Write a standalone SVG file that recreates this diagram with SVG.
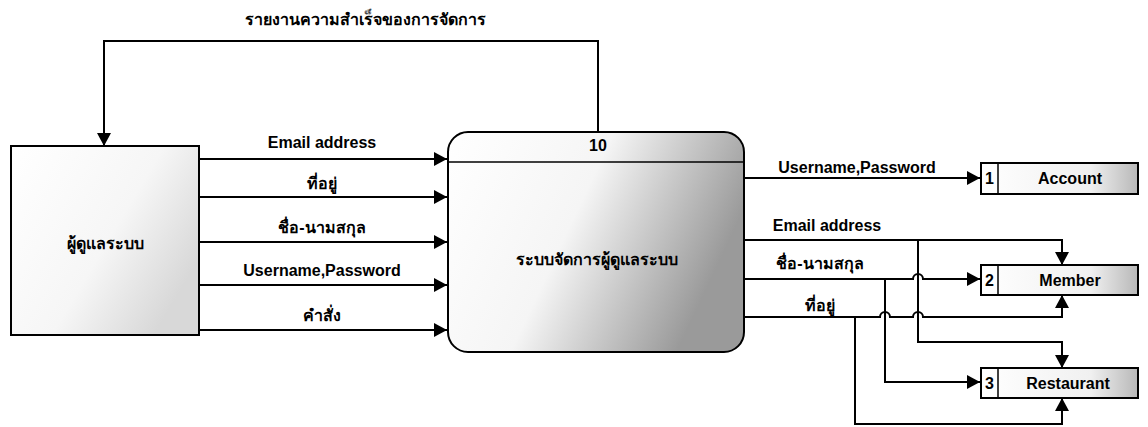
<svg xmlns="http://www.w3.org/2000/svg" width="1148" height="427" viewBox="0 0 1148 427">
<style>
.t{font-family:"Liberation Sans","Noto Sans","DejaVu Sans",sans-serif;font-weight:bold;font-size:16px;fill:#000;text-anchor:middle}
.l{fill:none;stroke:#000;stroke-width:2}
.b{stroke:#000;stroke-width:2}
</style>
<defs>
<marker id="ah" markerUnits="userSpaceOnUse" markerWidth="14" markerHeight="14" refX="13" refY="7" orient="auto">
<path d="M0,0 L13,7 L0,14 Z" fill="#000"/>
</marker>
<linearGradient id="gp" x1="0" y1="0" x2="1" y2="0.35">
<stop offset="0" stop-color="#fff"/>
<stop offset="0.5" stop-color="#f5f5f5"/>
<stop offset="1" stop-color="#9a9a9a"/>
</linearGradient>
<linearGradient id="ge" x1="0" y1="0" x2="1" y2="0.6">
<stop offset="0" stop-color="#fff"/>
<stop offset="0.6" stop-color="#f6f6f6"/>
<stop offset="1" stop-color="#d8d8d8"/>
</linearGradient>
<linearGradient id="gs" x1="0" y1="0" x2="1" y2="0">
<stop offset="0" stop-color="#fff"/>
<stop offset="0.7" stop-color="#f0f0f0"/>
<stop offset="1" stop-color="#b8b8b8"/>
</linearGradient>
</defs>

<text class="t" x="365" y="25">รายงานความสำเร็จของการจัดการ</text>

<g id="admin">
<rect class="b" x="11" y="146" width="188" height="189" fill="url(#ge)"/>
<text class="t" x="105" y="249">ผู้ดูแลระบบ</text>
</g>

<g id="process10">
<rect class="b" x="448" y="132" width="296" height="220" rx="20" ry="20" fill="url(#gp)"/>
<line x1="448" y1="162" x2="744" y2="162" stroke="#000" stroke-width="1.5"/>
<text class="t" x="598" y="151">10</text>
<text class="t" x="597" y="265">ระบบจัดการผู้ดูแลระบบ</text>
</g>

<g id="store1">
<rect class="b" x="981" y="163" width="157" height="31" fill="url(#gs)"/>
<line x1="998" y1="163" x2="998" y2="194" stroke="#000" stroke-width="1.5"/>
<text class="t" x="989.5" y="184">1</text>
<text class="t" x="1070" y="184">Account</text>
</g>

<g id="store2">
<rect class="b" x="981" y="265" width="157" height="30" fill="url(#gs)"/>
<line x1="998" y1="265" x2="998" y2="295" stroke="#000" stroke-width="1.5"/>
<text class="t" x="989.5" y="286">2</text>
<text class="t" x="1070" y="286">Member</text>
</g>

<g id="store3">
<rect class="b" x="981" y="368" width="157" height="30" fill="url(#gs)"/>
<line x1="998" y1="368" x2="998" y2="398" stroke="#000" stroke-width="1.5"/>
<text class="t" x="989.5" y="389">3</text>
<text class="t" x="1068" y="389">Restaurant</text>
</g>

<g id="connectors">
<path class="l" d="M598,132 V41 H104 V146" marker-end="url(#ah)"/>

<path class="l" d="M199,159 H447" marker-end="url(#ah)"/>
<path class="l" d="M199,197 H447" marker-end="url(#ah)"/>
<path class="l" d="M199,242 H447" marker-end="url(#ah)"/>
<path class="l" d="M199,285 H447" marker-end="url(#ah)"/>
<path class="l" d="M199,330 H447" marker-end="url(#ah)"/>
<text class="t" x="322" y="148">Email address</text>
<text class="t" x="322" y="189">ที่อยู่</text>
<text class="t" x="322" y="233">ชื่อ-นามสกุล</text>
<text class="t" x="322" y="276">Username,Password</text>
<text class="t" x="322" y="321">คำสั่ง</text>

<path class="l" d="M744,178 H980" marker-end="url(#ah)"/>
<text class="t" x="857" y="173">Username,Password</text>

<path class="l" d="M744,240 H1062 V265" marker-end="url(#ah)"/>
<text class="t" x="827" y="231">Email address</text>

<path class="l" d="M744,279 H913 a5,5 0 0 1 10,0 H980" marker-end="url(#ah)"/>
<text class="t" x="820" y="269">ชื่อ-นามสกุล</text>

<path class="l" d="M744,317 H880 a5,5 0 0 1 10,0 H913 a5,5 0 0 1 10,0 H1062 V295" marker-end="url(#ah)"/>
<text class="t" x="820" y="311">ที่อยู่</text>

<path class="l" d="M918,240 V342 H1062 V368" marker-end="url(#ah)"/>
<path class="l" d="M885,279 V382 H980" marker-end="url(#ah)"/>
<path class="l" d="M855,317 V424 H1062 V398" marker-end="url(#ah)"/>
</g>
</svg>
